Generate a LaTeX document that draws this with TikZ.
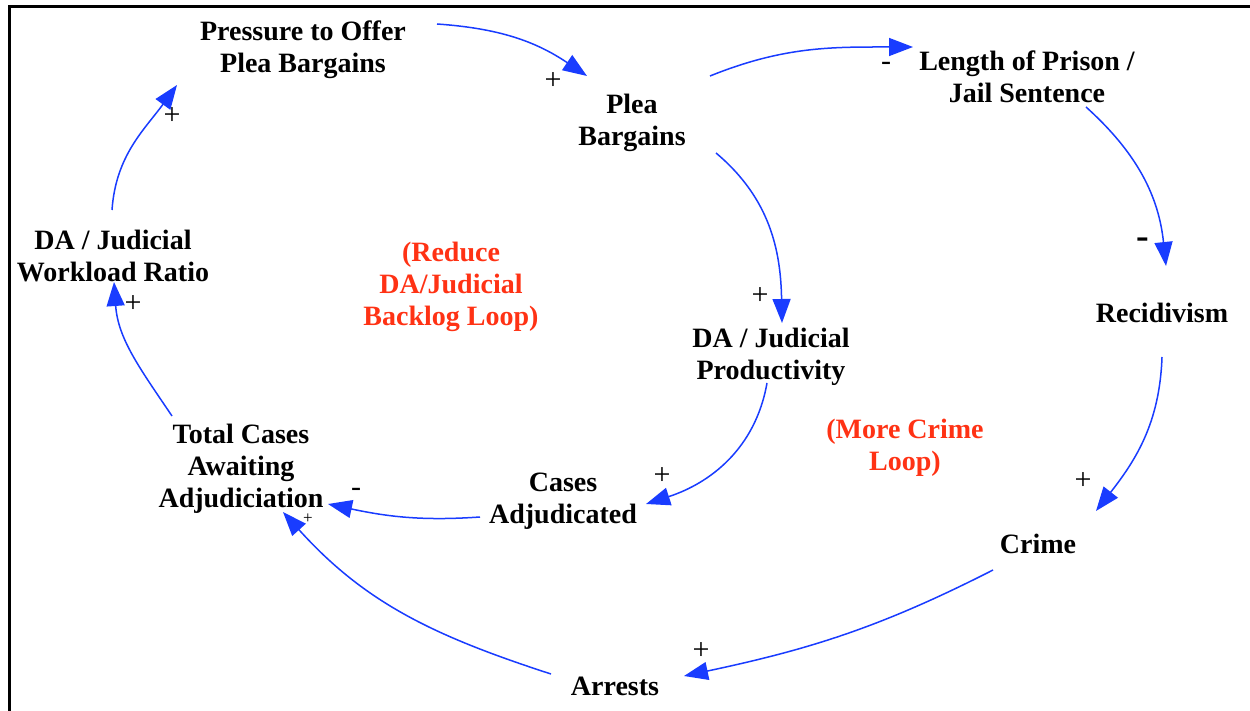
\documentclass[tikz,border=0pt]{standalone}
\usepackage{fontspec}
\setmainfont{Liberation Serif}
\usetikzlibrary{arrows.meta}
\definecolor{arrblue}{RGB}{25,60,255}
\definecolor{loopred}{RGB}{255,50,20}
\begin{document}
\begin{tikzpicture}[x=1pt,y=1pt,
  var/.style={align=center,inner sep=0pt,font=\fontsize{28}{32}\selectfont\bfseries},
  looplbl/.style={var,text=loopred},
  link/.style={draw=arrblue,line width=1.5pt,-{Triangle[length=24pt,width=18pt]}},
  pol/.style={inner sep=0pt,font=\fontsize{30}{30}\selectfont},
  polsmall/.style={inner sep=0pt,font=\fontsize{17}{17}\selectfont},
  polbig/.style={inner sep=0pt,font=\fontsize{38}{38}\selectfont\bfseries}]
\useasboundingbox (0,0) rectangle (1250,-711);
\fill[white] (0,0) rectangle (1250,-711);
% frame
\coordinate (fb) at (9,-711);
\coordinate (ftl) at (9,-7);
\coordinate (fr) at (1250,-7);
\draw[line width=3pt] (fb) -- (ftl) -- (fr);
% variables
\node[var] (press) at (303,-50) {Pressure to Offer\\Plea Bargains};
\node[var] (plea) at (632,-123) {Plea\\Bargains};
\node[var] (len) at (1027,-77) {Length of Prison /\\Jail Sentence};
\node[var] (recid) at (1162,-313) {Recidivism};
\node[var] (work) at (113,-256) {DA / Judicial\\Workload Ratio};
\node[looplbl] (loopA) at (451,-287) {(Reduce\\DA/Judicial\\Backlog Loop)};
\node[var] (prod) at (771,-357) {DA / Judicial\\Productivity};
\node[looplbl] (loopB) at (905,-448) {(More Crime\\Loop)};
\node[var] (total) at (241,-469) {Total Cases\\Awaiting\\Adjudiciation};
\node[var] (cases) at (563,-501) {Cases\\Adjudicated};
\node[var] (crime) at (1038,-544) {Crime};
\node[var] (arr) at (615,-686) {Arrests};
% connector end points
\coordinate (a1s) at (437,-24);  \coordinate (a1e) at (587,-76);
\coordinate (a2s) at (710,-76);  \coordinate (a2e) at (913,-47);
\coordinate (a3s) at (1086,-107); \coordinate (a3e) at (1166,-266);
\coordinate (a4s) at (716,-153); \coordinate (a4e) at (782,-323);
\coordinate (a5s) at (767,-383); \coordinate (a5e) at (646,-504);
\coordinate (a6s) at (480,-517); \coordinate (a6e) at (328,-504);
\coordinate (a7s) at (551,-674); \coordinate (a7e) at (283,-512);
\coordinate (a8s) at (993,-570); \coordinate (a8e) at (684,-676);
\coordinate (a9s) at (1162,-357); \coordinate (a9e) at (1096,-511);
\coordinate (a10s) at (172,-416); \coordinate (a10e) at (114,-282);
\coordinate (a11s) at (112,-210); \coordinate (a11e) at (177,-85);
% connectors
\draw[link] (a1s) to[out=-4,in=146] (a1e);
\draw[link] (a2s) to[out=22,in=180] (a2e);
\draw[link] (a3s) to[out=-42,in=96] (a3e);
\draw[link] (a4s) to[out=-40,in=91] (a4e);
\draw[link] (a5s) to[out=-100,in=18] (a5e);
\draw[link] (a6s) to[out=184,in=-12] (a6e);
\draw[link] (a7s) to[out=162,in=-48] (a7e);
\draw[link] (a8s) to[out=-153,in=12] (a8e);
\draw[link] (a9s) to[out=-92,in=52] (a9e);
\draw[link] (a10s) to[out=124,in=-86] (a10e);
\draw[link] (a11s) to[out=86,in=-126] (a11e);
% polarities
\node[pol] (p1) at (553,-81) {+};
\node[pol] (p2) at (886,-66) {-};
\node[polbig] (p3) at (1143,-243) {-};
\node[pol] (p4) at (760,-296) {+};
\node[pol] (p5) at (662,-476) {+};
\node[pol] (p6) at (356,-492) {-};
\node[polsmall] (p7) at (308,-519) {+};
\node[pol] (p8) at (701,-651) {+};
\node[pol] (p9) at (1083,-481) {+};
\node[pol] (p10) at (133,-304) {+};
\node[pol] (p11) at (172,-116) {+};
\end{tikzpicture}
\end{document}
